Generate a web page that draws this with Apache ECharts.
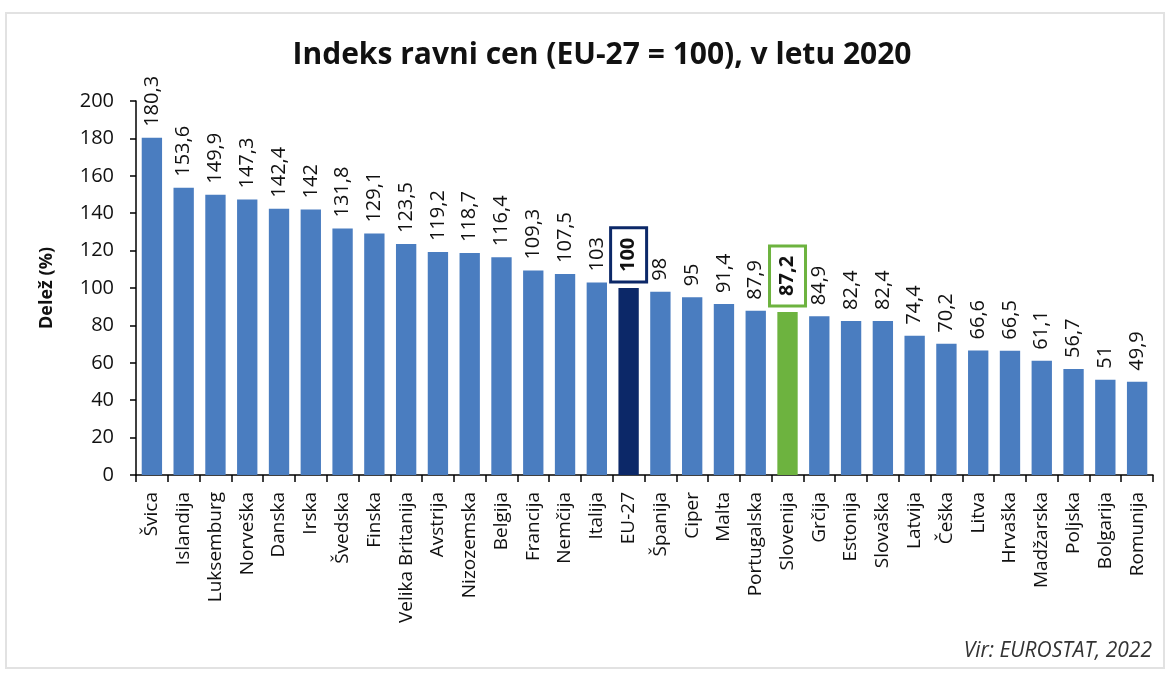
<!DOCTYPE html>
<html>
<head>
<meta charset="utf-8">
<script src="https://cdn.jsdelivr.net/npm/echarts@6/dist/echarts.min.js"></script>
<style>
  html, body { margin: 0; padding: 0; background: #fff; }
  #main { width: 1170px; height: 677px; }
</style>
</head>
<body>
<div id="main"></div>
<script>
// države in indeks ravni cen
const drzave = ['Švica', 'Islandija', 'Luksemburg', 'Norveška', 'Danska', 'Irska', 'Švedska', 'Finska',
  'Velika Britanija', 'Avstrija', 'Nizozemska', 'Belgija', 'Francija', 'Nemčija', 'Italija', 'EU-27',
  'Španija', 'Ciper', 'Malta', 'Portugalska', 'Slovenija', 'Grčija', 'Estonija', 'Slovaška', 'Latvija',
  'Češka', 'Litva', 'Hrvaška', 'Madžarska', 'Poljska', 'Bolgarija', 'Romunija']
const indeks = [180.3, 153.6, 149.9, 147.3, 142.4, 142, 131.8, 129.1, 123.5, 119.2, 118.7, 116.4, 109.3,
  107.5, 103, 100, 98, 95, 91.4, 87.9, 87.2, 84.9, 82.4, 82.4, 74.4, 70.2, 66.6, 66.5, 61.1, 56.7, 51, 49.9]
const yTicks = [0, 20, 40, 60, 80, 100, 120, 140, 160, 180, 200]

const font = '"Open Sans", "Noto Sans", sans-serif'
const modra = '#4a7dc0'

const chart = echarts.init(document.querySelector('#main'))

// okvir okrog oznake (EU-27, Slovenija)
const boxLabel = (color) => ({
  fontWeight: 'bold',
  borderColor: color,
  borderWidth: 3,
  padding: [8, 10, 8, 10],
  distance: 6
})

const option = {
  animation: false,
  backgroundColor: '#fff',
  title: {
    text: 'Indeks ravni cen (EU-27 = 100), v letu 2020',
    left: 597,
    textAlign: 'center',
    top: 35,
    textStyle: { fontFamily: font, fontSize: 30, fontWeight: 'bold', color: '#111' }
  },
  grid: { left: 136, right: 17, top: 101, bottom: 202 },
  graphic: [
    {
      type: 'rect',
      shape: { x: 6, y: 13, width: 1158, height: 655 },
      style: { fill: 'none', stroke: '#e2e2e2', lineWidth: 2 }
    },
    {
      type: 'text',
      right: 18,
      top: 641,
      style: { text: 'Vir: EUROSTAT, 2022', font: 'italic 21px ' + font, fill: '#333' }
    }
  ],
  xAxis: {
    type: 'category',
    data: drzave,
    axisLine: { lineStyle: { color: '#000', width: 1.5 } },
    axisTick: { show: true, length: 7, lineStyle: { color: '#000', width: 1.5 } },
    axisLabel: {
      rotate: 90,
      interval: 0,
      margin: 17,
      fontFamily: font,
      fontSize: 19,
      color: '#111'
    }
  },
  yAxis: {
    type: 'value',
    min: yTicks[0],
    max: yTicks[yTicks.length - 1],
    interval: 20,
    name: 'Delež (%)',
    nameLocation: 'middle',
    nameGap: 80,
    nameTextStyle: { fontFamily: font, fontSize: 18, fontWeight: 'bold', color: '#111' },
    axisLine: { show: true, lineStyle: { color: '#000', width: 1.5 } },
    axisTick: { show: true, length: 6, lineStyle: { color: '#000', width: 1.5 } },
    splitLine: { show: false },
    axisLabel: { fontFamily: font, fontSize: 20, color: '#111', margin: 22 }
  },
  series: [
    {
      type: 'bar',
      barCategoryGap: '36%',
      data: indeks.map((v, i) => {
        const item = { value: v }
        if (drzave[i] === 'EU-27') {
          item.itemStyle = { color: '#0c2868' }
          item.label = boxLabel('#0c2868')
        }
        if (drzave[i] === 'Slovenija') {
          item.itemStyle = { color: '#6db33f' }
          item.label = boxLabel('#6db33f')
        }
        return item
      }),
      itemStyle: { color: modra },
      label: {
        show: true,
        position: 'top',
        rotate: 90,
        align: 'left',
        verticalAlign: 'middle',
        distance: 11,
        fontFamily: font,
        fontSize: 20,
        color: '#111',
        formatter: p => String(p.value).replace('.', ',')
      }
    }
  ]
}

chart.setOption(option)
</script>
</body>
</html>
